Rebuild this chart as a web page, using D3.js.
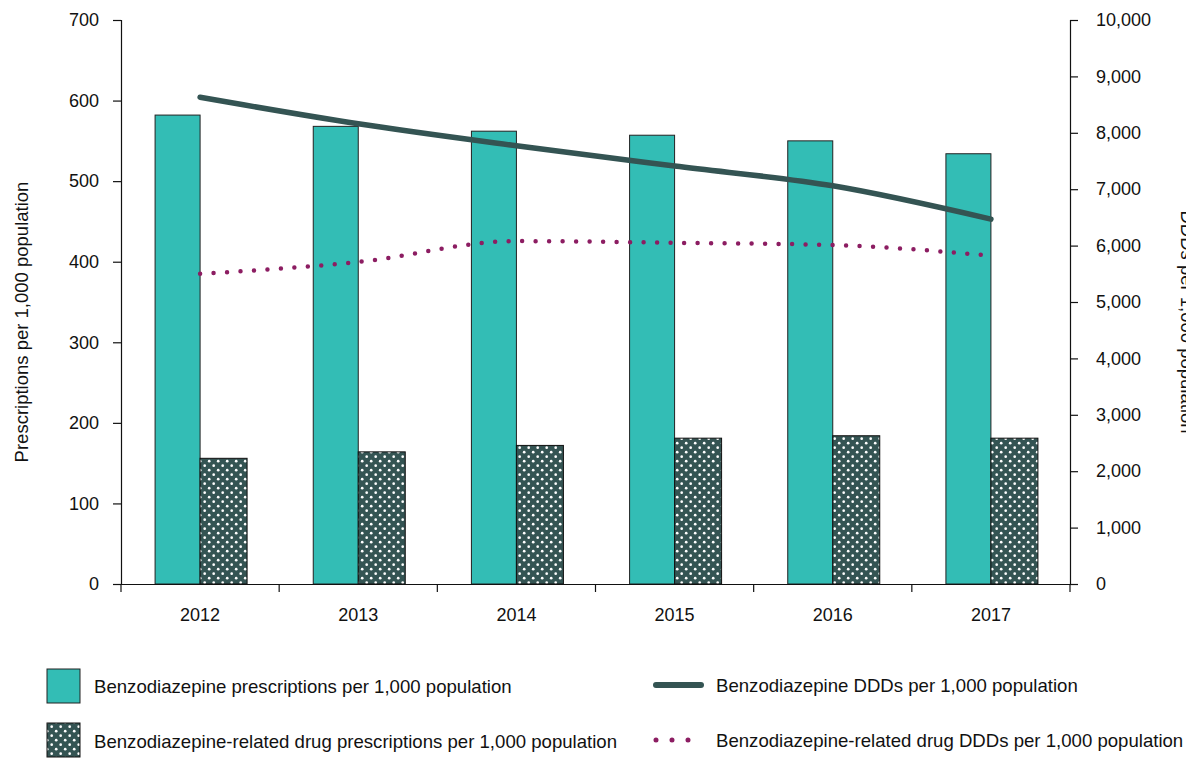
<!DOCTYPE html>
<html>
<head>
<meta charset="utf-8">
<script src="https://cdn.jsdelivr.net/npm/d3@7"></script>
<style>
  body { margin: 0; background: #fff; }
  svg { display: block; font-family: "Liberation Sans", Arial, sans-serif; }
  .tick text { font-size: 18px; fill: #111; }
</style>
</head>
<body>
<svg id="chart" width="1186" height="759"></svg>
<script>
// data
const years = ["2012", "2013", "2014", "2015", "2016", "2017"];
const benzoRx = [582, 568, 562, 557, 550, 534];
const relatedRx = [156, 164, 172, 181, 184, 181];
const benzoDDD = [8630, 8160, 7770, 7410, 7060, 6470];
const relatedDDD = [5500, 5710, 6080, 6050, 6010, 5820];
const leftTicks = [0, 100, 200, 300, 400, 500, 600, 700];
const rightTicks = [0, 1000, 2000, 3000, 4000, 5000, 6000, 7000, 8000, 9000, 10000];

const teal = "#33bdb5";
const slate = "#345453";
const plum = "#8c1d62";

let svg = d3.select("#chart");
let mLeft = 121, mRight = 1070, mTop = 20, mBottom = 584;

let x = d3.scaleBand().domain(years).range([mLeft, mRight]);
let yL = d3.scaleLinear().domain([0, 700]).range([mBottom, mTop]);
let yR = d3.scaleLinear().domain([0, 10000]).range([mBottom, mTop]);

// dotted fill for the related-drug bars
let defs = svg.append("defs");
let pat = defs.append("pattern")
    .attr("id", "dots")
    .attr("patternUnits", "userSpaceOnUse")
    .attr("width", 9).attr("height", 9);
pat.append("rect").attr("width", 9).attr("height", 9).attr("fill", slate);
pat.append("circle").attr("cx", 2.2).attr("cy", 2.2).attr("r", 1.35).attr("fill", "#fff");
pat.append("circle").attr("cx", 6.7).attr("cy", 6.7).attr("r", 1.35).attr("fill", "#fff");

// bars
let bw = 45;
svg.append("g").selectAll("rect")
    .data(years)
    .join("rect")
    .attr("x", d => x(d) + x.bandwidth() / 2 - bw)
    .attr("y", (d, i) => yL(benzoRx[i]))
    .attr("width", bw)
    .attr("height", (d, i) => yL(0) - yL(benzoRx[i]))
    .attr("fill", teal)
    .attr("stroke", "#222").attr("stroke-width", 1);

svg.append("g").selectAll("rect")
    .data(years)
    .join("rect")
    .attr("x", d => x(d) + x.bandwidth() / 2)
    .attr("y", (d, i) => yL(relatedRx[i]))
    .attr("width", bw + 2)
    .attr("height", (d, i) => yL(0) - yL(relatedRx[i]))
    .attr("fill", "url(#dots)")
    .attr("stroke", "#111").attr("stroke-width", 1);

// lines
let cx = d => x(d) + x.bandwidth() / 2;
let line = vals => d3.line().x((d, i) => cx(years[i])).y(d => yR(d)).curve(d3.curveMonotoneX)(vals);

svg.append("path")
    .attr("d", line(benzoDDD))
    .attr("fill", "none")
    .attr("stroke", slate)
    .attr("stroke-width", 5.5)
    .attr("stroke-linecap", "round");

svg.append("path")
    .attr("d", line(relatedDDD))
    .attr("fill", "none")
    .attr("stroke", plum)
    .attr("stroke-width", 4.5)
    .attr("stroke-linecap", "round")
    .attr("stroke-dasharray", "0 13.5");

// axes
let axL = svg.append("g")
    .attr("transform", `translate(${mLeft},0)`)
    .call(d3.axisLeft(yL).tickValues(leftTicks).tickSize(8).tickPadding(14));
let axR = svg.append("g")
    .attr("transform", `translate(${mRight},0)`)
    .call(d3.axisRight(yR).tickValues(rightTicks).tickSize(8).tickPadding(18).tickFormat(d3.format(",")));
let axX = svg.append("g")
    .attr("transform", `translate(0,${mBottom})`)
    .call(d3.axisBottom(x).tickSize(0).tickPadding(24));

[axL, axR, axX].forEach(a => {
  a.select(".domain").attr("stroke", "#111").attr("stroke-width", 1.2);
  a.selectAll(".tick line").attr("stroke", "#111").attr("stroke-width", 1.2);
});

// category boundary ticks on the x axis
svg.append("g").selectAll("line")
    .data(years.concat(["end"]))
    .join("line")
    .attr("x1", (d, i) => i < years.length ? x(d) : mRight)
    .attr("x2", (d, i) => i < years.length ? x(d) : mRight)
    .attr("y1", mBottom).attr("y2", mBottom + 8)
    .attr("stroke", "#111").attr("stroke-width", 1.2);

// axis titles (right one runs off the edge, as in the source)
svg.append("text")
    .attr("transform", "translate(28,322) rotate(-90)")
    .attr("text-anchor", "middle")
    .attr("font-size", 18.5)
    .attr("fill", "#111")
    .text("Prescriptions per 1,000 population");

svg.append("text")
    .attr("transform", "translate(1181,322) rotate(90)")
    .attr("text-anchor", "middle")
    .attr("font-size", 18.5)
    .attr("fill", "#111")
    .text("DDDs per 1,000 population");

// legend
let lg = svg.append("g").attr("font-size", 18.6).attr("fill", "#111");
lg.append("rect").attr("x", 47).attr("y", 669).attr("width", 33).attr("height", 34)
  .attr("fill", teal).attr("stroke", "#222");
lg.append("text").attr("x", 94).attr("y", 693).text("Benzodiazepine prescriptions per 1,000 population");
lg.append("rect").attr("x", 47).attr("y", 723).attr("width", 33).attr("height", 34)
  .attr("fill", "url(#dots)").attr("stroke", "#111");
lg.append("text").attr("x", 94).attr("y", 748).text("Benzodiazepine-related drug prescriptions per 1,000 population");

lg.append("line").attr("x1", 656).attr("x2", 701).attr("y1", 685).attr("y2", 685)
  .attr("stroke", slate).attr("stroke-width", 6).attr("stroke-linecap", "round");
lg.append("text").attr("x", 716).attr("y", 692).text("Benzodiazepine DDDs per 1,000 population");
lg.append("line").attr("x1", 656).attr("x2", 690).attr("y1", 740).attr("y2", 740)
  .attr("stroke", plum).attr("stroke-width", 5).attr("stroke-linecap", "round")
  .attr("stroke-dasharray", "0 16");
lg.append("text").attr("x", 716).attr("y", 747).text("Benzodiazepine-related drug DDDs per 1,000 population");
</script>
</body>
</html>
